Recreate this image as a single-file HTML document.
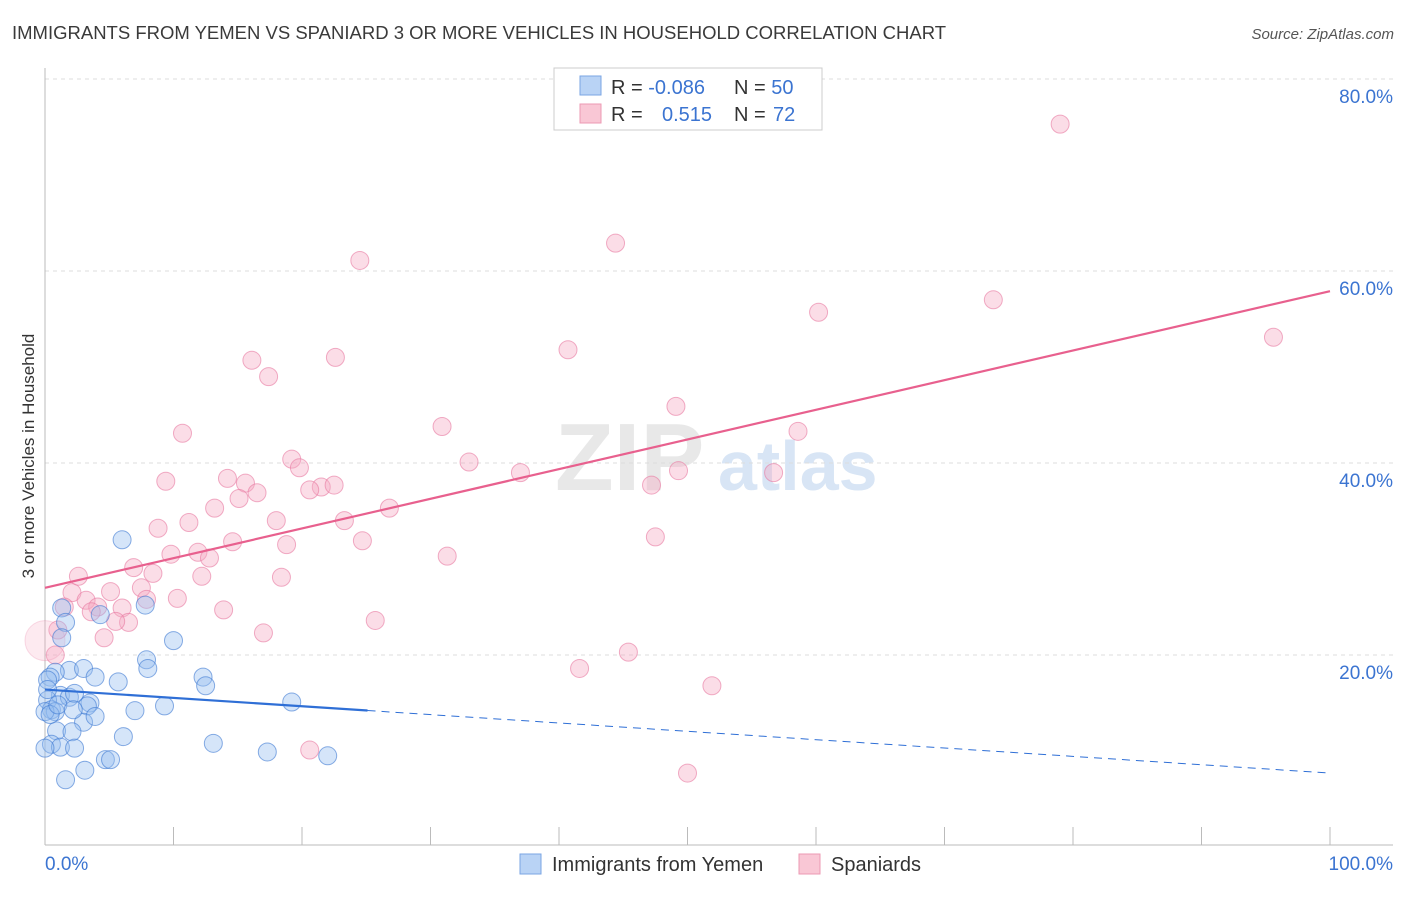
<!DOCTYPE html>
<html><head><meta charset="utf-8"><style>
body{margin:0;background:#fff;font-family:"Liberation Sans",sans-serif;}
svg text{font-family:"Liberation Sans",sans-serif;}
</style></head><body>
<svg width="1406" height="892" viewBox="0 0 1406 892">
<text x="12" y="39" font-size="18.5" fill="#3a3a3a">IMMIGRANTS FROM YEMEN VS SPANIARD 3 OR MORE VEHICLES IN HOUSEHOLD CORRELATION CHART</text>
<text x="1394" y="39" font-size="15" fill="#555" font-style="italic" text-anchor="end">Source: ZipAtlas.com</text>
<text x="555" y="490" font-size="96" fill="#e8e8e8" font-family="Liberation Serif" font-weight="bold">ZIP</text>
<text x="718" y="490" font-size="70" fill="#d8e5f5" font-weight="bold">atlas</text>
<g id="grid"></g>
<g id="axes"></g>
<text transform="translate(34,456) rotate(-90)" font-size="17" fill="#333" text-anchor="middle">3 or more Vehicles in Household</text>
<g id="pts"></g>
<g id="lines"></g>
<rect x="554" y="68" width="268" height="62" fill="#fff" stroke="#ccc"/>
<rect x="580" y="76" width="21" height="19" fill="#b9d3f5" stroke="#7aa5e3"/>
<rect x="580" y="104" width="21" height="19" fill="#f9c7d5" stroke="#ec9ab3"/>
<text x="611" y="94" font-size="20" fill="#333">R = <tspan fill="#3b74d1">-0.086</tspan></text>
<text x="734" y="94" font-size="20" fill="#333">N = <tspan fill="#3b74d1">50</tspan></text>
<text x="611" y="121" font-size="20" fill="#333">R = <tspan fill="#3b74d1" x="662">0.515</tspan></text>
<text x="734" y="121" font-size="20" fill="#333">N = <tspan fill="#3b74d1" x="773">72</tspan></text>
<rect x="520" y="854" width="21" height="20" fill="#b9d3f5" stroke="#7aa5e3"/>
<text x="552" y="871" font-size="20" fill="#333">Immigrants from Yemen</text>
<rect x="799" y="854" width="21" height="20" fill="#f9c7d5" stroke="#ec9ab3"/>
<text x="831" y="871" font-size="20" fill="#333">Spaniards</text>
</svg>
<script>
const yTicks=[20,40,60,80];
const yTickLabels=["20.0%","40.0%","60.0%","80.0%"];
const xTickLabels=["0.0%","100.0%"];
const yemenX=[6.0,1.3,4.3,7.8,1.6,1.3,10.0,7.9,8.0,1.9,0.8,3.0,3.9,5.7,0.4,1.2,1.9,0.2,3.5,0.5,3.3,0.8,7.0,9.3,12.3,12.5,19.2,3.0,0.9,2.1,6.1,0.5,1.2,2.3,13.1,17.3,22.0,4.7,5.1,3.1,1.6,0.0,0.0,0.4,0.2,0.2,1.0,2.3,3.9,2.2];
const yemenY=[32.0,24.9,24.2,25.2,23.4,21.8,21.5,19.5,18.6,18.4,18.2,18.6,17.7,17.2,17.7,15.8,15.6,15.3,15.0,14.3,14.7,14.1,14.2,14.7,17.7,16.8,15.1,13.0,12.1,12.0,11.5,10.7,10.4,10.3,10.8,9.9,9.5,9.1,9.1,8.0,7.0,10.3,14.1,13.8,17.4,16.4,14.8,16.0,13.6,14.3];
const spanX=[79.0,44.4,24.5,73.8,60.2,95.6,40.7,16.1,22.6,17.4,10.7,49.1,30.9,58.6,19.2,19.8,33.0,37.0,49.3,56.7,47.2,9.4,14.2,15.6,16.5,15.1,21.5,22.5,20.6,13.2,26.8,8.8,11.2,23.3,18.0,14.6,18.8,24.7,31.3,47.5,9.8,11.9,12.8,6.9,8.4,12.2,18.4,5.1,2.1,3.2,10.3,7.5,7.9,4.1,6.0,13.9,1.5,3.6,6.5,25.7,5.5,17.0,4.6,1.0,45.4,41.6,51.9,20.6,50.0,2.6,0.8,0.0];
const spanY=[75.3,62.9,61.1,57.0,55.7,53.1,51.8,50.7,51.0,49.0,43.1,45.9,43.8,43.3,40.4,39.5,40.1,39.0,39.2,39.0,37.7,38.1,38.4,37.9,36.9,36.3,37.5,37.7,37.2,35.3,35.3,33.2,33.8,34.0,34.0,31.8,31.5,31.9,30.3,32.3,30.5,30.7,30.1,29.1,28.5,28.2,28.1,26.6,26.5,25.7,25.9,27.0,25.8,25.0,24.9,24.7,25.0,24.5,23.4,23.6,23.5,22.3,21.8,22.6,20.3,18.6,16.8,10.1,7.7,28.2,20.0,21.5];
const spanTrend=[27.0,57.9];
const yemenTrend=[16.4,7.7];
const yemenSolidEnd=25.1;
const NS="http://www.w3.org/2000/svg";
const X0=45,X1=1330,Y0=847,YS=9.6;
const sx=v=>X0+(X1-X0)*v/100, sy=v=>Y0-v*YS;
function mk(tag,attrs,parent){const e=document.createElementNS(NS,tag);for(const k in attrs)e.setAttribute(k,attrs[k]);parent.appendChild(e);return e;}
const grid=document.getElementById('grid'),axes=document.getElementById('axes'),pts=document.getElementById('pts'),lines=document.getElementById('lines');
yTicks.forEach((t,i)=>{
 const l=mk('line',{x1:45,x2:1393,y1:sy(t),y2:sy(t),stroke:'#ddd','stroke-dasharray':'4,4'},grid);
 
 
 const tx=mk('text',{x:1393,y:sy(t)+24,'font-size':19,fill:'#3b74d1','text-anchor':'end'},grid);
 tx.textContent=yTickLabels[i];
 
 
});
const ax=mk('line',{x1:45,x2:1393,y1:845,y2:845,stroke:'#bbb'},axes);


const ay=mk('line',{x1:45,x2:45,y1:68,y2:845,stroke:'#bbb'},axes);


for(let i=0;i<=10;i++){
 const t=mk('line',{x1:sx(i*10),x2:sx(i*10),y1:827,y2:845,stroke:'#bbb'},axes);
 
 
}
[[0,'start',45],[1,'end',1393]].forEach(([i,a,x])=>{
 const t=mk('text',{x:x,y:870,'font-size':19,fill:'#3b74d1','text-anchor':a},axes);
 t.textContent=xTickLabels[i];
 
 
});
spanX.forEach((v,i)=>{
 const big=(i==spanX.length-1);
 const c=mk('circle',{cx:sx(v),cy:sy(spanY[i]),r:big?20:9,fill:big?'rgba(246,170,195,0.25)':'rgba(246,170,195,0.4)',stroke:big?'rgba(232,120,160,0.25)':'rgba(232,120,160,0.6)','stroke-width':1},pts);
 
 
});
yemenX.forEach((v,i)=>{
 const c=mk('circle',{cx:sx(v),cy:sy(yemenY[i]),r:9,fill:'rgba(150,190,240,0.4)',stroke:'rgba(60,120,210,0.6)','stroke-width':1},pts);
 
 
});
const pl=mk('line',{x1:sx(0),y1:sy(spanTrend[0]),x2:sx(100),y2:sy(spanTrend[1]),stroke:'#e8608e','stroke-width':2.2},lines);


const yAt=x=>yemenTrend[0]+(yemenTrend[1]-yemenTrend[0])*x/100;
const bl=mk('line',{x1:sx(0),y1:sy(yAt(0)),x2:sx(yemenSolidEnd),y2:sy(yAt(yemenSolidEnd)),stroke:'#2f6fd6','stroke-width':2.2},lines);


const bd=mk('line',{x1:sx(yemenSolidEnd),y1:sy(yAt(yemenSolidEnd)),x2:sx(100),y2:sy(yAt(100)),stroke:'#2f6fd6','stroke-width':1,'stroke-dasharray':'8,6'},lines);


</script>
</body></html>
